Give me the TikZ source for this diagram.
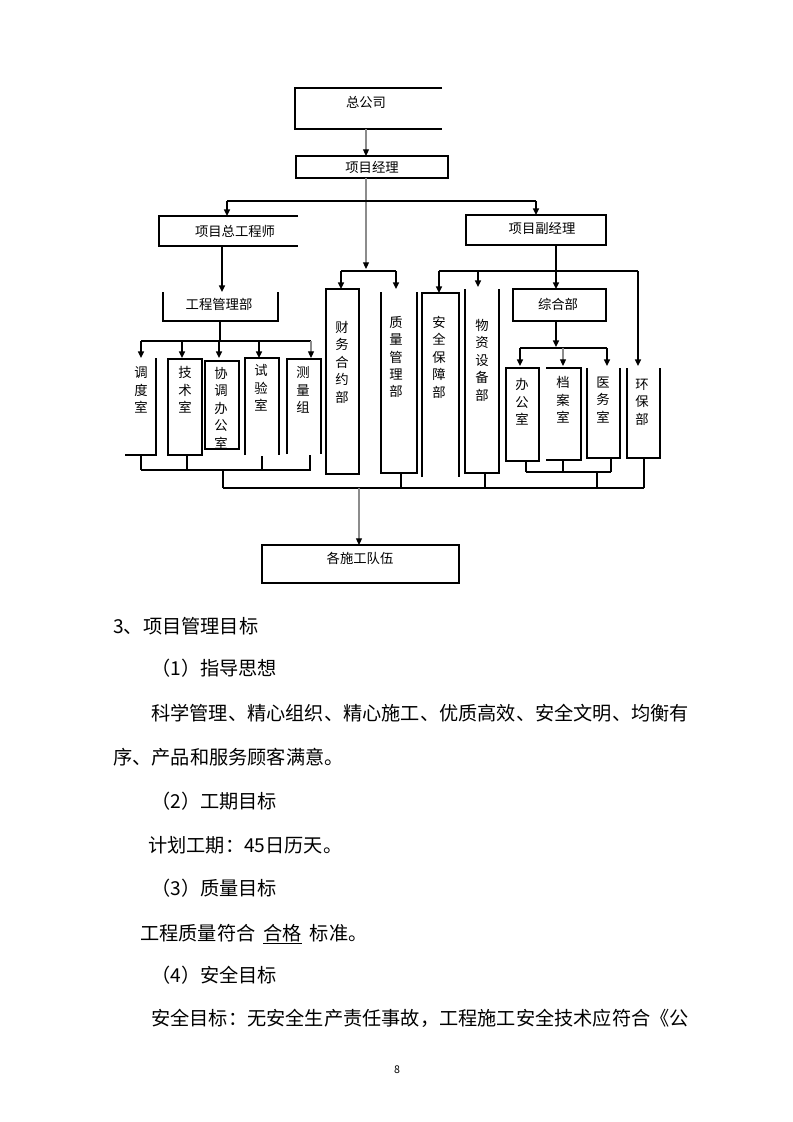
\documentclass[tikz,border=0pt]{standalone}
\usepackage{fontspec}
\setmainfont{Noto Sans CJK SC}
\usetikzlibrary{arrows.meta,fit}
\begin{document}
\begin{tikzpicture}[x=0.75pt,y=-0.75pt,
  ln/.style={line width=1.1pt,black},
  gl/.style={line width=0.8pt,black!45},
  arr/.style={-{Triangle[length=5pt,width=4.5pt]}},
  garr/.style={-{Triangle[length=5pt,width=4.5pt,color=black]}},
  bx/.style={inner sep=0pt,outer sep=0pt,draw=none},
  lab/.style={font=\fontsize{10}{13.1}\selectfont,inner sep=0pt},
  vlab/.style={lab,align=center},
  body/.style={font=\fontsize{14.4}{14.4}\selectfont,inner sep=0pt,anchor=base west},
]
\useasboundingbox[fill=white] (0,0) rectangle (793,1122);

% ---------- boxes ----------
\node[bx,fit={(295,88) (442,129)}] (zgs) {};
\node[bx,fit={(296,156) (448,178)}] (xmjl) {};
\node[bx,fit={(159,216) (298,246)}] (zgcs) {};
\node[bx,fit={(466,215) (606,245)}] (fjl) {};
\node[bx,fit={(163,292) (278,321)}] (gcglb) {};
\node[bx,fit={(125,358) (156,455)}] (dds) {};
\node[bx,fit={(168,359) (202,455)}] (jss) {};
\node[bx,fit={(205,361) (239,449)}] (xtb) {};
\node[bx,fit={(245,358) (279,455)}] (sys) {};
\node[bx,fit={(287,359) (321,454)}] (clz) {};
\node[bx,fit={(326,289) (359,474)}] (cwh) {};
\node[bx,fit={(381,292) (417,473)}] (zlg) {};
\node[bx,fit={(422,293) (459,477)}] (aqb) {};
\node[bx,fit={(465,289) (499,473)}] (wzs) {};
\node[bx,fit={(513,289) (606,321)}] (zhb) {};
\node[bx,fit={(506,368) (539,461)}] (bgs) {};
\node[bx,fit={(546,368) (581,460)}] (das) {};
\node[bx,fit={(587,368) (620,458)}] (yws) {};
\node[bx,fit={(627,368) (660,458)}] (hbb) {};
\node[bx,fit={(262,545) (459,583)}] (gsd) {};

% ---------- box outlines (as printed, some open) ----------
\draw[ln] (zgs.north east) -- (zgs.north west) -- (zgs.south west) -- (zgs.south east);
\draw[ln] (xmjl.north west) rectangle (xmjl.south east);
\draw[ln] (zgcs.north east) -- (zgcs.north west) -- (zgcs.south west) -- (zgcs.south east);
\draw[ln] (fjl.north west) rectangle (fjl.south east);
\draw[ln] (gcglb.north west) -- (gcglb.south west) -- (gcglb.south east) -- (gcglb.north east);
\draw[ln] (dds.north east) -- (dds.south east) -- (dds.south west);
\draw[ln] (jss.north west) rectangle (jss.south east);
\draw[ln] (xtb.north west) rectangle (xtb.south east);
\draw[ln] (sys.south west) -- (sys.north west) -- (sys.north east) -- (sys.south east);
\draw[ln] (clz.south west) -- (clz.north west) -- (clz.north east) -- (clz.south east);
\draw[ln] (cwh.north west) rectangle (cwh.south east);
\draw[ln] (zlg.north west) -- (zlg.south west) -- (zlg.south east) -- (zlg.north east);
\draw[ln] (aqb.south west) -- (aqb.north west) -- (aqb.north east) -- (aqb.south east);
\draw[ln] (wzs.north west) -- (wzs.south west) -- (wzs.south east) -- (wzs.north east);
\draw[ln] (zhb.north west) rectangle (zhb.south east);
\draw[ln] (bgs.north west) rectangle (bgs.south east);
\draw[ln] (das.north west) -- (das.north east) -- (das.south east) -- (das.south west);
\draw[ln] (yws.north west) -- (yws.south west) -- (yws.south east) -- (yws.north east);
\draw[ln] (hbb.north west) -- (hbb.south west) -- (hbb.south east) -- (hbb.north east);
\draw[ln] (gsd.north west) rectangle (gsd.south east);

% ---------- labels ----------
\node[lab] (zgs-t) at (366,102) {总公司};
\node[lab] (xmjl-t) at (372,167) {项目经理};
\node[lab] (zgcs-t) at (235,231) {项目总工程师};
\node[lab] (fjl-t) at (542,228) {项目副经理};
\node[lab] (gcglb-t) at (219,304) {工程管理部};
\node[lab] (zhb-t) at (558,304) {综合部};
\node[lab] (gsd-t) at (360,558) {各施工队伍};
\node[vlab] (dds-t) at (141,390) {调\\度\\室};
\node[vlab] (jss-t) at (185,390) {技\\术\\室};
\node[vlab] (xtb-t) at (221,408) {协\\调\\办\\公\\室};
\node[vlab] (sys-t) at (261,388) {试\\验\\室};
\node[vlab] (clz-t) at (303,390) {测\\量\\组};
\node[vlab] (cwh-t) at (342,362) {财\\务\\合\\约\\部};
\node[vlab] (zlg-t) at (396,357) {质\\量\\管\\理\\部};
\node[vlab] (aqb-t) at (439,357) {安\\全\\保\\障\\部};
\node[vlab] (wzs-t) at (482,360) {物\\资\\设\\备\\部};
\node[vlab] (bgs-t) at (522,402) {办\\公\\室};
\node[vlab] (das-t) at (563,400) {档\\案\\室};
\node[vlab] (yws-t) at (603,400) {医\\务\\室};
\node[vlab] (hbb-t) at (642,402) {环\\保\\部};

% ---------- junction coordinates ----------
\coordinate (xm) at (366,0);
\coordinate (g1) at (366,269);
\coordinate (h1l) at (227,201);
\coordinate (h1r) at (536,201);
\coordinate (h2l) at (341,271);
\coordinate (h2r) at (396,271);
\coordinate (v1) at (222,0);
\coordinate (v2) at (220,341);
\coordinate (h3l) at (141,341);
\coordinate (h3r) at (311,341);
\coordinate (h4l) at (141,470);
\coordinate (h4r) at (311,470);
\coordinate (v3) at (223,470);
\coordinate (h5l) at (223,488);
\coordinate (h5r) at (644,488);
\coordinate (h6l) at (439,271);
\coordinate (h6m) at (478,271);
\coordinate (h6r) at (638,271);
\coordinate (v4) at (556,0);
\coordinate (v5) at (556,347);
\coordinate (h7l) at (520,348);
\coordinate (h7m) at (563,348);
\coordinate (h7r) at (607,348);
\coordinate (h8l) at (526,472);
\coordinate (h8m) at (563,472);
\coordinate (h8r) at (611,472);
\coordinate (v6) at (597,472);
\coordinate (v7) at (359,488);

% ---------- connectors ----------
\draw[gl,garr] (zgs.south -| xm) -- (xmjl.north -| xm);
\draw[gl,garr] (xmjl.south -| xm) -- (g1);
\draw[ln] (h1l) -- (h1r);
\draw[ln,arr] (h1l) -- (h1l |- zgcs.north);
\draw[ln,arr] (h1r) -- (h1r |- fjl.north);
\draw[ln] (h2l) -- (h2r);
\draw[ln,arr] (h2l) -- (h2l |- cwh.north);
\draw[ln,arr] (h2r) -- ([yshift=2.2pt]h2r |- zlg.north);
% left branch
\draw[ln,arr] (zgcs.south -| v1) -- (gcglb.north -| v1);
\draw[ln] (gcglb.south -| v2) -- (v2);
\draw[ln] (h3l) -- (h3r);
\draw[ln,arr] (h3l) -- (141,358);
\draw[ln,arr] (182,341) -- (182,358);
\draw[ln,arr] (219,341) -- (219,358);
\draw[ln,arr] (259,341) -- (259,358);
\draw[gl,garr] (h3r) -- (311,358);
\draw[ln] (h4l) -- (h4r);
\draw[ln] (141,456) -- (h4l);
\draw[ln] (jss.south -| 187,0) -- (187,470);
\draw[ln] (262,456) -- (262,470);
\draw[ln] (310,455) -- (310,470);
\draw[ln] (v3) -- (h5l);
% bottom line
\draw[ln] (h5l) -- (h5r);
\draw[ln] (zlg.south -| 401,0) -- (401,488);
\draw[ln] (wzs.south -| 485,0) -- (485,488);
\draw[ln] (hbb.south -| h5r) -- (h5r);
\draw[ln] (v6) -- (597,488);
% right branch
\draw[ln] (h6l) -- (h6r);
\draw[ln,arr] (h6l) -- (h6l |- aqb.north);
\draw[ln,arr] (h6m) -- (478,287);
\draw[ln,arr] (h6r) -- ([yshift=1.5pt]h6r |- hbb.north);
\draw[ln,arr] (fjl.south -| v4) -- (zhb.north -| v4);
\draw[ln,arr] (zhb.south -| v4) -- (v5);
\draw[ln] (h7l) -- (h7r);
\draw[ln,arr] (h7l) -- ([yshift=1.5pt]h7l |- bgs.north);
\draw[gl,garr] (h7m) -- ([yshift=1.5pt]h7m |- das.north);
\draw[ln,arr] (h7r) -- ([yshift=1.5pt]h7r |- yws.north);
\draw[ln] (h8l) -- (h8r);
\draw[ln] (bgs.south -| h8l) -- (h8l);
\draw[ln] (das.south -| h8m) -- (h8m);
\draw[ln] (yws.south -| h8r) -- (h8r);
% to construction teams
\draw[gl,garr] (v7) -- (v7 |- gsd.north);

% ---------- body text ----------
\node[body] (p1) at (113,633) {3、项目管理目标};
\node[body] (p2) at (151,675) {（1）指导思想};
\node[body] (p3) at (151,720) {科学管理、精心组织、精心施工、优质高效、安全文明、均衡有};
\node[body] (p4) at (113,764) {序、产品和服务顾客满意。};
\node[body] (p5) at (151,808) {（2）工期目标};
\node[body] (p6) at (148,852) {计划工期：45日历天。};
\node[body] (p7) at (151,895) {（3）质量目标};
\node[body] (p8) at (140,940) {工程质量符合\hspace{6pt}\underline{合格}\hspace{6pt}标准。};
\node[body] (p9) at (151,982) {（4）安全目标};
\node[body] (p10) at (151,1025) {安全目标：无安全生产责任事故，工程施工安全技术应符合《公};
\node[font=\fontsize{8}{8}\selectfont,inner sep=0pt] (pg) at (397,1070) {8};
\end{tikzpicture}
\end{document}
